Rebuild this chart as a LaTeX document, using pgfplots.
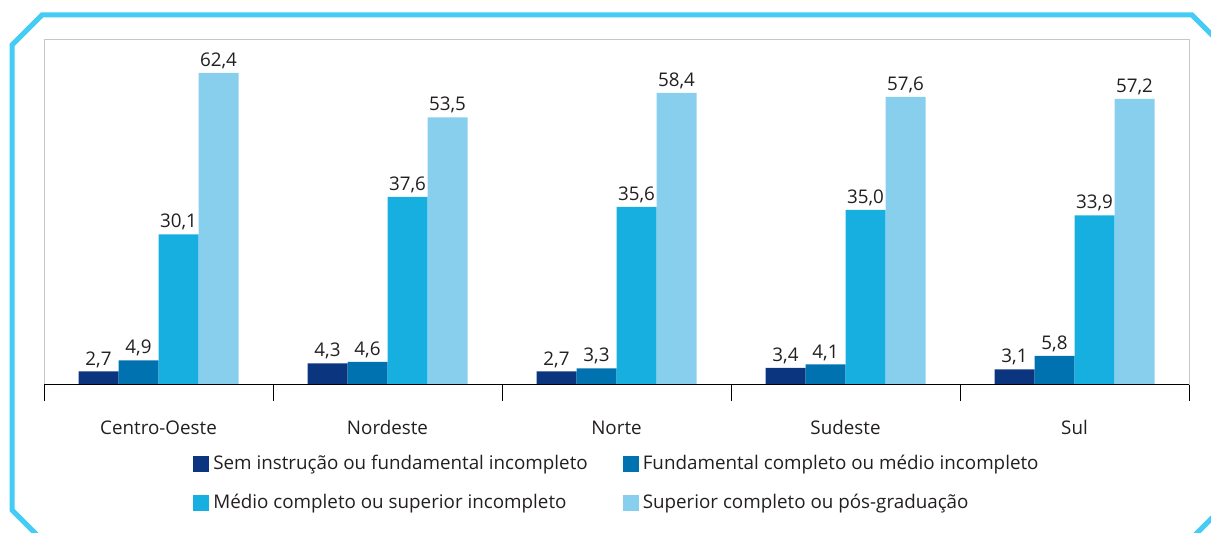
\documentclass[border=0pt]{standalone}
\usepackage{pgfplots}
\pgfplotsset{compat=1.18}
\usepackage{fontspec}
\setmainfont{Open Sans}
\definecolor{c1}{RGB}{12,53,128}
\definecolor{c2}{RGB}{0,114,176}
\definecolor{c3}{RGB}{22,175,224}
\definecolor{c4}{RGB}{136,206,237}
\definecolor{framec}{RGB}{68,204,244}
\definecolor{txt}{RGB}{35,31,32}
\begin{document}
\begin{tikzpicture}[x=1pt,y=1pt,font=\fontsize{9.4}{11}\selectfont]
\useasboundingbox (0,0) rectangle (605.5,266.5);
\begin{scope}
\clip (0,0) rectangle (605.5,266.5);
\draw[framec, line width=2.5pt, line join=miter] (6,244) -- (21,259) -- (596,259) -- (611,244) -- (611,12.5) -- (592.5,-6) -- (23.5,-6) -- (6,11.5) -- cycle;
\end{scope}
\begin{axis}[
  at={(22pt,74pt)}, anchor=south west, scale only axis,
  width=572.5pt, height=172.5pt,
  xmin=-0.5, xmax=4.5, ymin=0, ymax=69,
  ybar=0pt, bar width=20pt,
  axis line style={draw=black!22, line width=0.5pt},
  ytick=\empty,
  xtick={0,1,2,3,4},
  xticklabels={Centro-Oeste,Nordeste,Norte,Sudeste,Sul},
  major tick length=0pt,
  xtick pos=bottom,
  extra x ticks={-0.5,0.5,1.5,2.5,3.5,4.5},
  extra x tick labels={},
  extra x tick style={major tick length=8pt, tick align=outside, tick style={black, line width=0.5pt}},
  xticklabel style={anchor=base, yshift=-25pt, text=txt, font=\fontsize{9.4}{11}\selectfont},
  nodes near coords,
  /pgf/number format/.cd, use comma, fixed, fixed zerofill, precision=1, assume math mode=true,
  /pgfplots/.cd,
  every node near coord/.append style={text=txt, font=\fontsize{9.4}{11}\selectfont, yshift=-1.5pt},
  legend style={at={(0.1301,-0.19)}, anchor=north west, draw=none, fill=none,
    font=\fontsize{9.4}{11}\selectfont, text=txt, inner sep=0pt, row sep=7pt,
    /tikz/every even column/.append style={column sep=15.5pt}},
  legend columns=2,
  legend cell align=left,
  legend image code/.code={\fill[#1] (0pt,-4pt) rectangle (8pt,4pt);},
]
\addplot[fill=c1, draw=none] coordinates {(0,2.7) (1,4.3) (2,2.7) (3,3.4) (4,3.1)};
\addplot[fill=c2, draw=none] coordinates {(0,4.9) (1,4.6) (2,3.3) (3,4.1) (4,5.8)};
\addplot[fill=c3, draw=none] coordinates {(0,30.1) (1,37.6) (2,35.6) (3,35.0) (4,33.9)};
\addplot[fill=c4, draw=none] coordinates {(0,62.4) (1,53.5) (2,58.4) (3,57.6) (4,57.2)};
\legend{Sem instrução ou fundamental incompleto, Fundamental completo ou médio incompleto, Médio completo ou superior incompleto, Superior completo ou pós-graduação}
\draw[black, line width=1pt] (rel axis cs:0,0) -- (rel axis cs:1,0);
\end{axis}
\end{tikzpicture}
\end{document}
